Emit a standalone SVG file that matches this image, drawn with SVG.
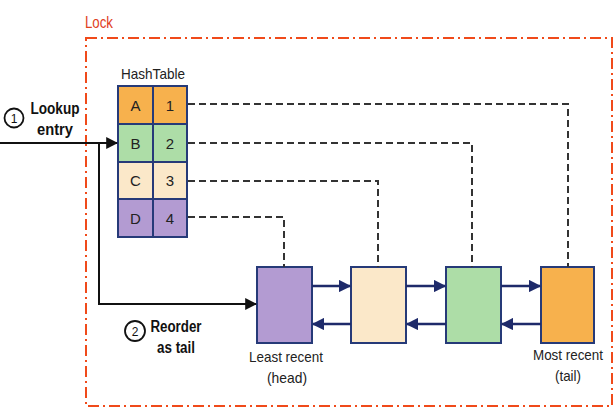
<svg xmlns="http://www.w3.org/2000/svg" width="616" height="414" viewBox="0 0 616 414">
<defs>
<style>
.lock{fill:none;stroke:#f04a1a;stroke-width:2;stroke-dasharray:11 4 2 4}
.cell{stroke:#263a78;stroke-width:2}
.t{font-family:"Liberation Sans",Arial,sans-serif;font-size:15px;fill:#222;text-anchor:middle}
.b{font-family:"Liberation Sans",Arial,sans-serif;font-size:16px;font-weight:bold;fill:#111;text-anchor:middle}
.dash{fill:none;stroke:#333;stroke-width:2;stroke-dasharray:7 4}
.blk{fill:none;stroke:#111;stroke-width:2}
.nav{fill:none;stroke:#1e2a6a;stroke-width:2.5}
.node{stroke:#263a78;stroke-width:2}
</style>
<marker id="an" viewBox="0 0 10 10" refX="9" refY="5" markerWidth="5" markerHeight="5" orient="auto"><path d="M0,0 L10,5 L0,10 z" fill="#1e2a6a"/></marker>
<marker id="ak" viewBox="0 0 10 10" refX="9" refY="5" markerWidth="12" markerHeight="12" orient="auto" markerUnits="userSpaceOnUse"><path d="M0,0 L10,5 L0,10 z" fill="#111"/></marker>
</defs>
<rect width="616" height="414" fill="#fff"/>

<g id="lock">
<text x="85" y="28" font-family="Liberation Sans,Arial,sans-serif" font-size="16" fill="#e0401c" textLength="28" lengthAdjust="spacingAndGlyphs">Lock</text>
<rect class="lock" x="86" y="38" width="526" height="368"/>
</g>

<g id="hashtable">
<text class="t" x="153" y="79" textLength="64" lengthAdjust="spacingAndGlyphs">HashTable</text>
<rect class="cell" x="118" y="86" width="35" height="38" fill="#f7b14d"/>
<rect class="cell" x="153" y="86" width="34" height="38" fill="#f7b14d"/>
<rect class="cell" x="118" y="124" width="35" height="38" fill="#addda7"/>
<rect class="cell" x="153" y="124" width="34" height="38" fill="#addda7"/>
<rect class="cell" x="118" y="162" width="35" height="37" fill="#fbe8c9"/>
<rect class="cell" x="153" y="162" width="34" height="37" fill="#fbe8c9"/>
<rect class="cell" x="118" y="199" width="35" height="38" fill="#b39bd2"/>
<rect class="cell" x="153" y="199" width="34" height="38" fill="#b39bd2"/>
<text class="t" x="135.5" y="111">A</text><text class="t" x="170" y="111">1</text>
<text class="t" x="135.5" y="149">B</text><text class="t" x="170" y="149">2</text>
<text class="t" x="135.5" y="186">C</text><text class="t" x="170" y="186">3</text>
<text class="t" x="135.5" y="224">D</text><text class="t" x="170" y="224">4</text>
</g>

<g id="node1"><rect class="node" x="257" y="267" width="55" height="76" fill="#b39bd2"/>
<text class="t" x="286" y="362" textLength="74" lengthAdjust="spacingAndGlyphs">Least recent</text><text class="t" x="287" y="383" textLength="40" lengthAdjust="spacingAndGlyphs">(head)</text></g>
<g id="node2"><rect class="node" x="351" y="267" width="55" height="76" fill="#fbe8c9"/></g>
<g id="node3"><rect class="node" x="446" y="267" width="55" height="76" fill="#addda7"/></g>
<g id="node4"><rect class="node" x="541" y="267" width="53" height="76" fill="#f7b14d"/>
<text class="t" x="568" y="360" textLength="70" lengthAdjust="spacingAndGlyphs">Most recent</text><text class="t" x="568" y="381" textLength="26" lengthAdjust="spacingAndGlyphs">(tail)</text></g>

<g id="step1">
<circle cx="14" cy="118" r="9.5" fill="#fff" stroke="#111" stroke-width="1.8"/>
<text x="14" y="123" font-family="Liberation Sans,Arial,sans-serif" font-size="12" fill="#111" text-anchor="middle">1</text>
<text class="b" x="55" y="114" textLength="49" lengthAdjust="spacingAndGlyphs">Lookup</text>
<text class="b" x="55" y="135" textLength="36" lengthAdjust="spacingAndGlyphs">entry</text>
</g>
<g id="step2">
<circle cx="135" cy="331" r="10" fill="#fff" stroke="#111" stroke-width="1.8"/>
<text x="135" y="336" font-family="Liberation Sans,Arial,sans-serif" font-size="12" fill="#111" text-anchor="middle">2</text>
<text class="b" x="176" y="332" textLength="51" lengthAdjust="spacingAndGlyphs">Reorder</text>
<text class="b" x="176" y="353" textLength="38" lengthAdjust="spacingAndGlyphs">as tail</text>
</g>

<g id="connectors">
<path class="dash" d="M188,104 H568 V267"/>
<path class="dash" d="M188,143 H472 V267"/>
<path class="dash" d="M188,181 H378 V267"/>
<path class="dash" d="M188,217 H284 V267"/>
<path class="blk" d="M0,143 H117" marker-end="url(#ak)"/>
<path class="blk" d="M99,143 V304 H256" marker-end="url(#ak)"/>
<path class="nav" d="M312,286 H350" marker-end="url(#an)"/>
<path class="nav" d="M406,286 H445" marker-end="url(#an)"/>
<path class="nav" d="M501,286 H540" marker-end="url(#an)"/>
<path class="nav" d="M351,324 H313" marker-end="url(#an)"/>
<path class="nav" d="M446,324 H407" marker-end="url(#an)"/>
<path class="nav" d="M541,324 H502" marker-end="url(#an)"/>
</g>
</svg>
